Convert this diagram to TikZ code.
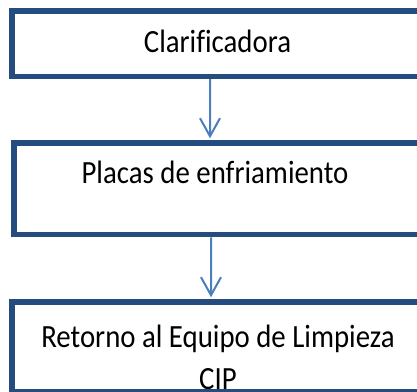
\documentclass[tikz,border=0pt]{standalone}
\usepackage{fontspec}
\setmainfont{Carlito}[FakeStretch=0.89,Ligatures=NoCommon]
\usetikzlibrary{arrows.meta}

\definecolor{azulcaja}{RGB}{36,76,126}
\definecolor{azulflecha}{RGB}{74,126,189}

\tikzset{
  caja/.style={draw=azulcaja, line width=5.5bp, inner sep=0pt},
  texto/.style={inner sep=0pt, anchor=base, align=center,
                font=\fontsize{32.5}{42}\selectfont},
  flujo/.style={draw=azulflecha, line width=2bp}
}

\begin{document}
\begin{tikzpicture}[x=1bp,y=-1bp,>={Straight Barb[length=18bp,width=20bp]}]

  \useasboundingbox (0,0) rectangle (417,392);
  \clip (0,0) rectangle (417,392);

  \begin{scope}   % textos de las cajas
    \node[texto] (tclar) at (217.5,52) {Clarificadora};
    \node[texto] (tplacas) at (215,183) {Placas de enfriamiento};
    \node[texto] (tretorno) at (218,389) {Retorno al Equipo de Limpieza\\CIP};
  \end{scope}

  \begin{scope}   % cajas y flechas
    \node[caja, minimum width=410bp, minimum height=65.5bp] (clar) at (217,43.5) {};
    \node[caja, minimum width=408bp, minimum height=91.5bp] (placas) at (218,188.75) {};
    \node[caja, minimum width=410bp, minimum height=89.5bp] (retorno) at (217,346.75) {};

    \draw[flujo, ->] ([xshift=-7bp]clar.south) -- ([xshift=-8bp,yshift=2bp]placas.north);
    \draw[flujo, ->] ([xshift=-7bp]placas.south) -- ([xshift=-6bp,yshift=2bp]retorno.north);
  \end{scope}

\end{tikzpicture}
\end{document}
